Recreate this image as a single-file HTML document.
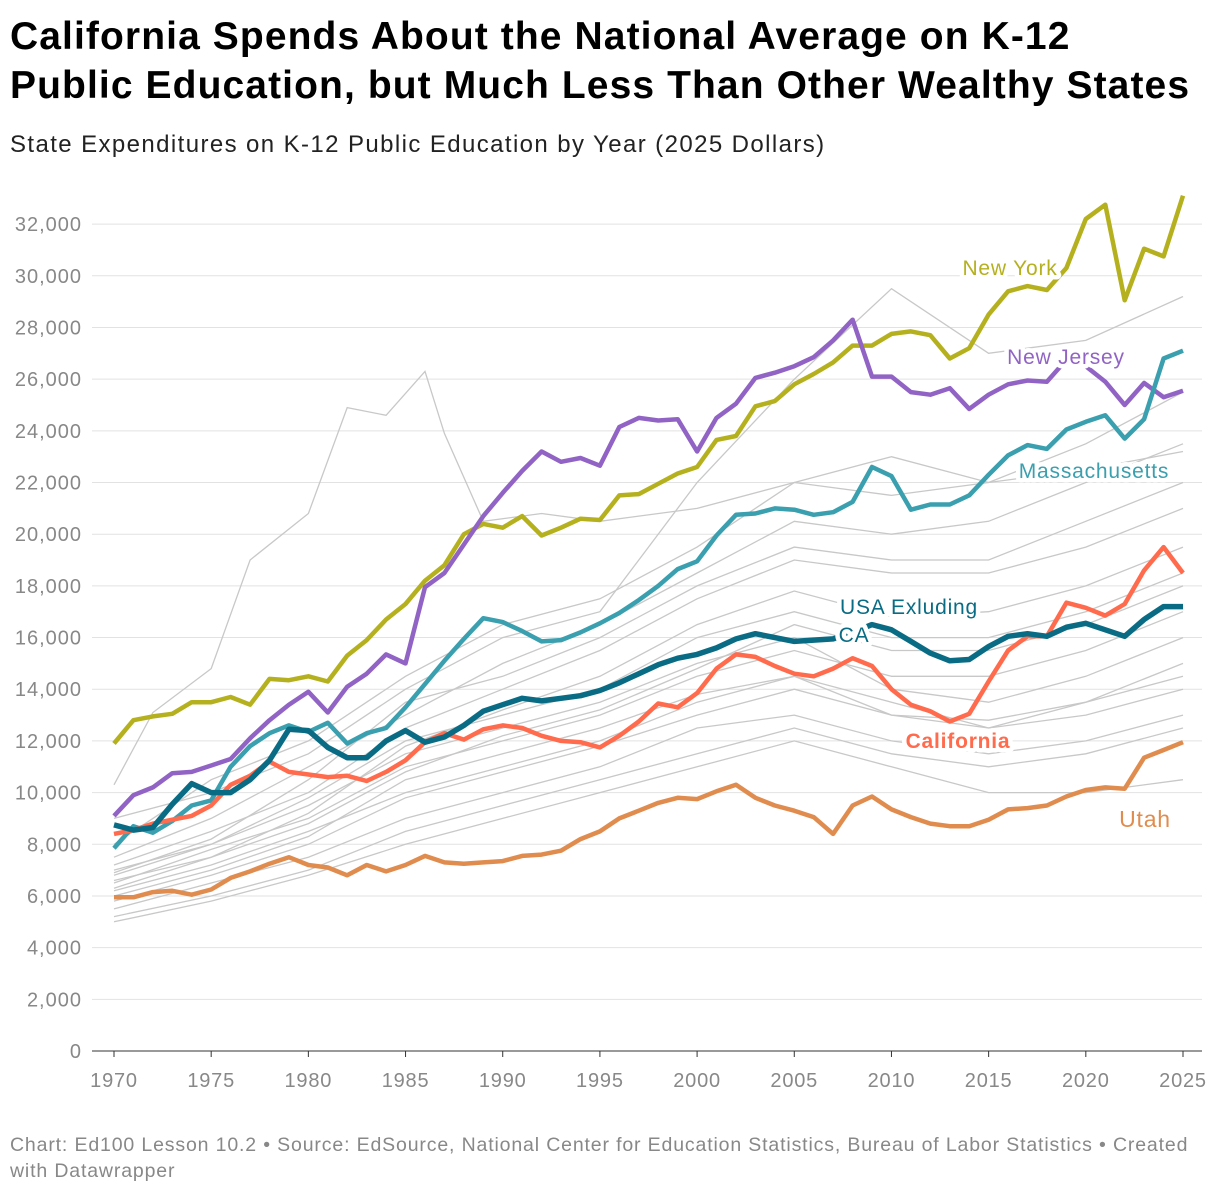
<!DOCTYPE html>
<html><head><meta charset="utf-8">
<style>
body{margin:0;background:#fff;font-family:"Liberation Sans",Arial,sans-serif;}
#wrap{position:relative;width:1220px;height:1194px;overflow:hidden;}
h1{position:absolute;left:10px;top:12px;margin:0;font-size:39px;line-height:49px;font-weight:bold;color:#000;letter-spacing:1.1px;white-space:nowrap;}
#sub{position:absolute;left:10px;top:131px;font-size:24px;color:#222;letter-spacing:1.4px;white-space:nowrap;}
#foot{position:absolute;left:10px;top:1132px;width:1210px;font-size:19.5px;line-height:26px;color:#888;letter-spacing:0.85px;white-space:nowrap;}
svg text{font-family:"Liberation Sans",Arial,sans-serif;}
</style></head><body>
<div id="wrap">
<h1>California Spends About the National Average on K-12<br>Public Education, but Much Less Than Other Wealthy States</h1>
<div id="sub">State Expenditures on K-12 Public Education by Year (2025 Dollars)</div>
<svg id="chart" width="1220" height="1194" style="position:absolute;left:0;top:0"></svg>
<div id="foot">Chart: Ed100 Lesson 10.2 • Source: EdSource, National Center for Education Statistics, Bureau of Labor Statistics • Created<br>with Datawrapper</div>
</div>
<script>
const years=[];for(let y=1970;y<=2025;y++)years.push(y);
const yTicks=[0,2000,4000,6000,8000,10000,12000,14000,16000,18000,20000,22000,24000,26000,28000,30000,32000];
const xTicks=[1970,1975,1980,1985,1990,1995,2000,2005,2010,2015,2020,2025];
const newYork=[11.9,12.8,12.95,13.05,13.5,13.5,13.7,13.4,14.4,14.35,14.5,14.3,15.3,15.9,16.7,17.3,18.2,18.8,20.0,20.4,20.25,20.7,19.95,20.25,20.6,20.55,21.5,21.55,21.95,22.35,22.6,23.65,23.8,24.95,25.15,25.8,26.2,26.65,27.3,27.3,27.75,27.85,27.7,26.8,27.2,28.5,29.4,29.6,29.45,30.3,32.2,32.75,29.05,31.05,30.75,33.1];
const newJersey=[9.1,9.9,10.2,10.75,10.8,11.05,11.3,12.1,12.8,13.4,13.9,13.1,14.1,14.6,15.35,15.0,17.95,18.5,19.6,20.7,21.6,22.45,23.2,22.8,22.95,22.65,24.15,24.5,24.4,24.45,23.2,24.5,25.05,26.05,26.25,26.5,26.85,27.5,28.3,26.1,26.1,25.5,25.4,25.65,24.85,25.4,25.8,25.95,25.9,26.75,26.5,25.9,25.0,25.85,25.3,25.55];
const massachusetts=[7.85,8.7,8.45,8.9,9.5,9.7,11.0,11.8,12.3,12.6,12.35,12.7,11.9,12.3,12.5,13.3,14.2,15.1,15.95,16.75,16.6,16.25,15.85,15.9,16.2,16.55,16.95,17.45,18.0,18.65,18.95,19.95,20.75,20.8,21.0,20.95,20.75,20.85,21.25,22.6,22.25,20.95,21.15,21.15,21.5,22.3,23.05,23.45,23.3,24.05,24.35,24.6,23.7,24.45,26.8,27.1];
const usaExCA=[8.75,8.55,8.65,9.55,10.35,10.0,10.0,10.5,11.25,12.45,12.4,11.75,11.35,11.35,12.0,12.4,11.95,12.15,12.6,13.15,13.4,13.65,13.55,13.65,13.75,13.95,14.25,14.6,14.95,15.2,15.35,15.6,15.95,16.15,16.0,15.85,15.9,15.95,16.2,16.5,16.3,15.85,15.4,15.1,15.15,15.65,16.05,16.15,16.05,16.4,16.55,16.3,16.05,16.7,17.2,17.2];
const california=[8.4,8.55,8.8,8.95,9.1,9.5,10.3,10.65,11.2,10.8,10.7,10.6,10.65,10.45,10.8,11.25,11.95,12.3,12.05,12.45,12.6,12.5,12.2,12.0,11.95,11.75,12.2,12.75,13.45,13.3,13.85,14.8,15.35,15.25,14.9,14.6,14.5,14.8,15.2,14.9,14.0,13.4,13.15,12.75,13.05,14.3,15.5,16.05,16.05,17.35,17.15,16.85,17.3,18.6,19.5,18.5];
const utah=[5.95,5.95,6.15,6.2,6.05,6.25,6.7,6.95,7.25,7.5,7.2,7.1,6.8,7.2,6.95,7.2,7.55,7.3,7.25,7.3,7.35,7.55,7.6,7.75,8.2,8.5,9.0,9.3,9.6,9.8,9.75,10.05,10.3,9.8,9.5,9.3,9.05,8.4,9.5,9.85,9.35,9.05,8.8,8.7,8.7,8.95,9.35,9.4,9.5,9.85,10.1,10.2,10.15,11.35,11.65,11.95];
const grayYears=[1970,1975,1980,1985,1990,1995,2000,2005,2010,2015,2020,2025];
const gray1=[6.8,8.0,9.5,11.5,12.5,13.5,15.0,16.0,14.0,13.5,14.5,16.0];
const gray2=[6.2,7.2,8.5,10.0,11.0,12.0,13.5,14.5,13.5,12.5,13.0,14.0];
const gray3=[5.5,6.5,7.5,9.0,10.0,11.0,12.5,13.0,12.0,11.5,12.0,13.0];
const gray4=[7.2,8.5,10.0,12.5,14.0,15.5,17.5,19.0,18.5,18.5,19.5,21.0];
const gray5=[6.5,7.8,9.0,11.0,12.0,13.0,14.5,15.5,14.5,14.5,15.5,17.0];
const gray6=[5.2,6.0,7.0,8.5,9.5,10.5,11.5,12.5,11.5,11.0,11.5,12.5];
const gray7=[7.5,9.0,11.0,13.0,15.0,16.5,18.5,20.5,20.0,20.5,22.0,23.5];
const gray8=[6.0,7.0,8.3,10.5,11.5,12.5,13.8,14.5,13.0,12.8,13.5,15.0];
const gray9=[8.0,10.5,12.0,14.5,16.5,17.5,19.5,22.0,21.5,22.0,23.5,25.5];
const gray10=[5.0,5.8,6.8,8.0,9.0,10.0,11.0,12.0,11.0,10.0,10.0,10.5];
const gray11=[6.6,7.5,9.2,11.8,13.2,14.5,16.5,17.8,16.8,17.0,18.0,19.5];
const gray12=[6.9,8.2,10.5,13.5,14.5,16.0,18.0,19.5,19.0,19.0,20.5,22.0];
const gray13=[9.0,10.0,11.5,14.0,16.0,17.0,22.0,26.0,29.5,27.0,27.5,29.2];
const gray14=[6.3,7.5,8.8,10.8,12.2,13.2,14.8,16.5,15.5,15.5,16.5,18.0];
const gray15=[5.8,6.8,8.0,9.8,10.8,11.8,13.0,14.0,13.0,12.5,13.5,14.5];
const gray16=[7.0,8.0,9.8,12.0,13.0,14.0,16.0,17.0,16.0,16.0,17.0,18.5];
const alaskaYears=[1970,1972,1975,1977,1980,1982,1984,1986,1987,1989,1992,1995,2000,2005,2010,2015,2020,2025];
const alaska=[10.3,13.1,14.8,19.0,20.8,24.9,24.6,26.3,23.9,20.5,20.8,20.5,21.0,22.0,23.0,22.0,22.5,23.2];

const X0=114,X1=1183,Y0=1051,YPER=25.84;
const xs=y=>X0+(y-1970)*(X1-X0)/55;
const ys=v=>Y0-v*YPER/1000;
const NS='http://www.w3.org/2000/svg';
const svg=document.getElementById('chart');
function mk(tag,attrs,parent){const e=document.createElementNS(NS,tag);for(const k in attrs)e.setAttribute(k,attrs[k]);(parent||svg).appendChild(e);return e;}

const gGrid=mk('g',{});


yTicks.forEach(t=>{
  const l=mk('line',{x1:92,x2:1202,y1:ys(t),y2:ys(t),stroke:t===0?'#333':'#e2e2e2','stroke-width':1},gGrid);
  
  
  const tx=mk('text',{x:82,y:ys(t)+7,'text-anchor':'end','font-size':20,'letter-spacing':1,fill:'#888'},gGrid);
  tx.textContent=t.toLocaleString('en-US');
  
  
});
const gX=mk('g',{});


xTicks.forEach(t=>{
  mk('line',{x1:xs(t),x2:xs(t),y1:Y0,y2:Y0+6,stroke:'#333'},gX);
  const tx=mk('text',{x:xs(t),y:Y0+36,'text-anchor':'middle','font-size':20,'letter-spacing':0.8,fill:'#888'},gX);
  tx.textContent=t;
  
  
});
function path(xv,vals){return vals.map((v,i)=>(i?'L':'M')+xs(xv[i]).toFixed(1)+','+ys(v*1000).toFixed(1)).join('');}
const grays=[gray1,gray2,gray3,gray4,gray5,gray6,gray7,gray8,gray9,gray10,gray11,gray12,gray13,gray14,gray15,gray16];
grays.forEach(g=>{
  const p=mk('path',{d:path(grayYears,g),fill:'none',stroke:'#c8c8c8','stroke-width':1.3});
  
  
});
const pa=mk('path',{d:path(alaskaYears,alaska),fill:'none',stroke:'#c8c8c8','stroke-width':1.3});



const series=[
 [newYork,'#b5b11e','new-york-line'],
 [newJersey,'#9163c4','new-jersey-line'],
 [massachusetts,'#3a9fae','massachusetts-line'],
 [utah,'#e08c4e','utah-line'],
 [california,'#ff6b4c','california-line'],
 [usaExCA,'#0a6c84','usa-excluding-ca-line']];
series.forEach(s=>{
  const p=mk('path',{d:path(years,s[0]),fill:'none',stroke:s[1],'stroke-width':s[2]==='usa-excluding-ca-line'?5.5:4.5,'stroke-linejoin':'round'});
  
  
});
const labels=[
 ['New York',1010,275,'#b5b11e','normal','label-new-york'],
 ['New Jersey',1066,364,'#9163c4','normal','label-new-jersey'],
 ['Massachusetts',1094,478,'#3a9fae','normal','label-massachusetts'],
 ['USA Exluding',909,614,'#0a6c84','normal','label-usa-excluding-1'],
 ['CA',854,642,'#0a6c84','normal','label-usa-excluding-2'],
 ['California',958,748,'#ff6b4c','bold','label-california'],
 ['Utah',1145,827,'#e08c4e','normal','label-utah']];
labels.forEach(l=>{
  const t=mk('text',{x:l[1],y:l[2],'text-anchor':'middle','font-size':l[5]==='label-utah'?23:21,'letter-spacing':0.8,fill:l[3],'font-weight':l[4],stroke:'#fff','stroke-width':9,'paint-order':'stroke','stroke-linejoin':'round'});
  t.textContent=l[0];
  
  
});
</script>
</body></html>
